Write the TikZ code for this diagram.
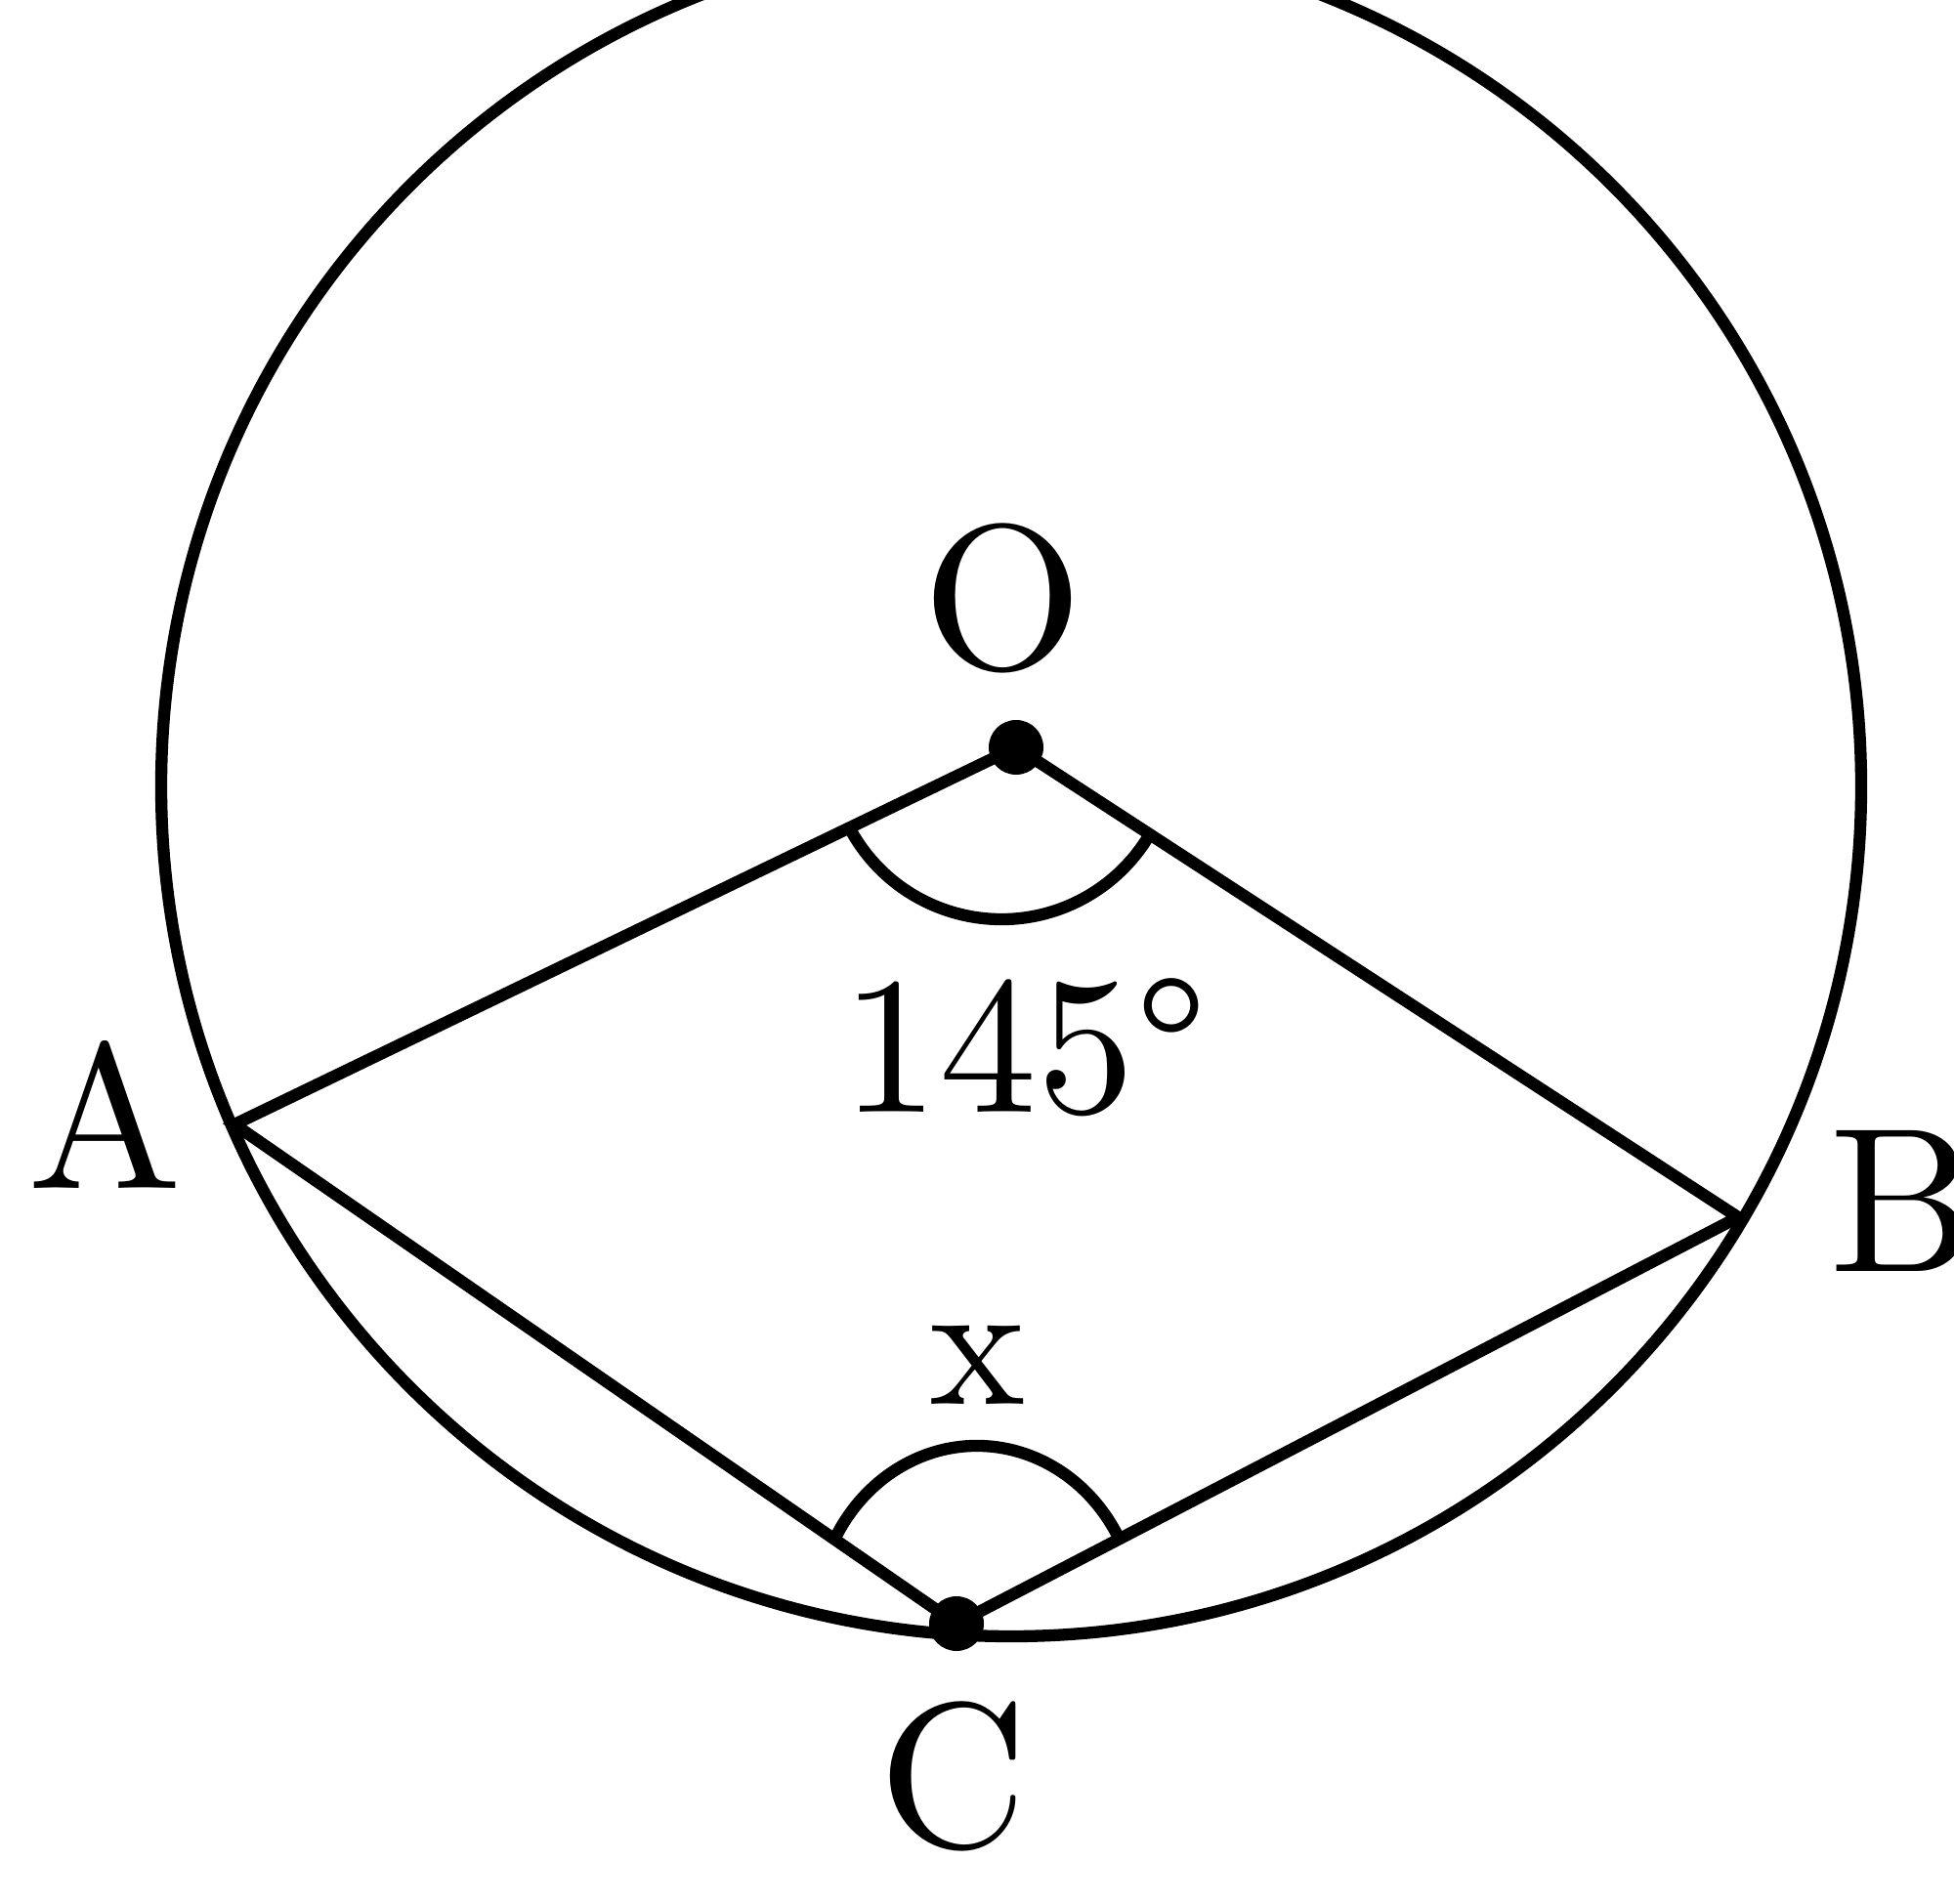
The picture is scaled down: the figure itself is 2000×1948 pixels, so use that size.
\documentclass[tikz,border=0pt]{standalone}
\usepackage{fontspec}
\newfontfamily\lbl{lmroman10-regular}[Extension=.otf]
\begin{document}
\begin{tikzpicture}[x=0.01cm,y=0.01cm,
  geo/.style={line width=3.5pt, draw=black},
  lab/.style={inner sep=0pt, font=\lbl\fontsize{60}{60}\selectfont},
  num/.style={inner sep=0pt, font=\lbl\fontsize{57}{57}\selectfont},
  var/.style={inner sep=0pt, font=\lbl\fontsize{53}{53}\selectfont}]
\useasboundingbox (0,0) rectangle (2000,1948);
\clip (0,0) rectangle (2000,1948);
\coordinate (Z) at (1035,1143);
\coordinate (O) at (1040,1183);
\coordinate (A) at (240,797);
\coordinate (B) at (1779,702);
\coordinate (C) at (979,286);
\coordinate (Oarc) at (1025,1183);
\coordinate (Carc) at (1000,288);
\draw[geo] (Z) circle[radius=870];
\draw[geo] (A) -- (O) -- (B) -- (C) -- cycle;
\draw[geo] ([shift={(207:176)}]Oarc) arc[start angle=207, end angle=330, radius=176];
\draw[geo] ([shift={(28:165 and 180)}]Carc) arc[start angle=28, end angle=153, x radius=165, y radius=180];
\fill (O) circle[radius=28];
\fill (C) circle[radius=28];
\node[lab] (lO) at (1027,1336) {O};
\node[lab] (lA) at (108,807) {A};
\node[lab, anchor=west] (lB) at (1872,719) {B};
\node[lab] (lC) at (976,130) {C};
\node[num] (l145) at (1049,876) {145°};
\node[var] (lx) at (1001,551) {x};
\end{tikzpicture}
\end{document}
